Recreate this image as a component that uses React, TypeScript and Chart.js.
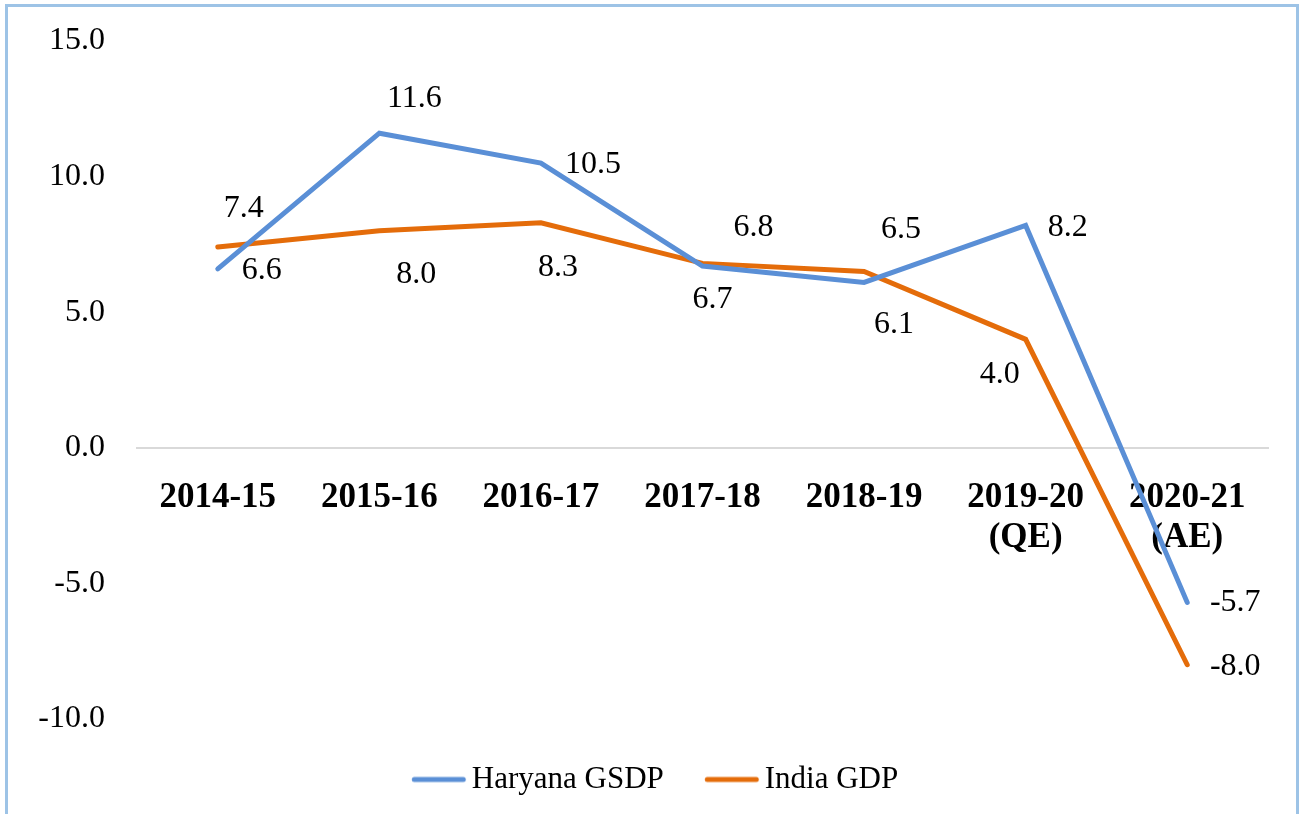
import React, { useEffect, useRef } from 'react';
import { Chart, registerables } from 'chart.js';

Chart.register(...registerables);

// ---- data ----
const categories: (string | string[])[] = [
  '2014-15',
  '2015-16',
  '2016-17',
  '2017-18',
  '2018-19',
  ['2019-20', '(QE)'],
  ['2020-21', '(AE)'],
];
const haryanaGSDP = [6.6, 11.6, 10.5, 6.7, 6.1, 8.2, -5.7];
const indiaGDP = [7.4, 8.0, 8.3, 6.8, 6.5, 4.0, -8.0];
const seriesNames = ['Haryana GSDP', 'India GDP'];
const yTicks = { min: -10, max: 15, step: 5 };

// label placement offsets (px) relative to each point, per series
const labelOffsets: number[][][] = [
  [[44, 2], [35, -35], [52, 2], [10, 33], [30, 42], [42, 2], [48, 0]],
  [[26, -39], [37, 44], [17, 45], [51, -36], [37, -42], [-26, 35], [48, 2]],
];

const FONT = '"Liberation Serif", "Times New Roman", serif';
const BLUE = '#5A8FD6';
const ORANGE = '#E46C0A';

// legend glyph: a short round-capped line, drawn into a small canvas
function legendLine(color: string): HTMLCanvasElement {
  const c = document.createElement('canvas');
  c.width = 72;
  c.height = 10;
  const g = c.getContext('2d')!;
  g.strokeStyle = color;
  g.lineWidth = 5;
  g.lineCap = 'round';
  g.beginPath();
  g.moveTo(19.25, 5);
  g.lineTo(68.25, 5);
  g.stroke();
  return c;
}

const pointLabelPlugin = {
  id: 'pointLabels',
  afterDatasetsDraw(chart: any) {
    const ctx = chart.ctx;
    ctx.save();
    ctx.font = `32px ${FONT}`;
    ctx.fillStyle = '#000000';
    ctx.textAlign = 'center';
    ctx.textBaseline = 'middle';
    chart.data.datasets.forEach((ds: any, i: number) => {
      const meta = chart.getDatasetMeta(i);
      meta.data.forEach((pt: any, j: number) => {
        const off = labelOffsets[i][j];
        ctx.fillText(Number(ds.data[j]).toFixed(1), pt.x + off[0], pt.y + off[1]);
      });
    });
    ctx.restore();
  },
};

export default function App() {
  const canvasRef = useRef<HTMLCanvasElement | null>(null);

  useEffect(() => {
    if (!canvasRef.current) return;
    const chart = new Chart(canvasRef.current, {
      type: 'line',
      data: {
        labels: categories as any,
        datasets: [
          {
            label: seriesNames[0],
            data: haryanaGSDP,
            borderColor: BLUE,
            backgroundColor: BLUE,
            borderWidth: 5,
            pointRadius: 0,
            pointStyle: legendLine(BLUE) as any,
            tension: 0,
            borderCapStyle: 'round',
          },
          {
            label: seriesNames[1],
            data: indiaGDP,
            borderColor: ORANGE,
            backgroundColor: ORANGE,
            borderWidth: 5,
            pointRadius: 0,
            pointStyle: legendLine(ORANGE) as any,
            tension: 0,
            borderCapStyle: 'round',
          },
        ],
      },
      options: {
        responsive: false,
        animation: false,
        devicePixelRatio: 1,
        layout: { padding: { top: 41, right: 31, bottom: 9, left: 36 } },
        plugins: {
          tooltip: { enabled: false },
          legend: {
            position: 'bottom',
            title: { display: true, text: '', font: { size: 10, lineHeight: 1 }, padding: 0 },
            labels: {
              font: { family: FONT, size: 31 },
              color: '#000000',
              usePointStyle: true,
              pointStyleWidth: 50.5,
              boxHeight: 10,
              padding: 35,
            },
          },
        },
        scales: {
          x: {
            type: 'category',
            offset: true,
            position: { y: 0 } as any,
            grid: { display: false, drawTicks: false },
            border: { display: true, color: '#D9D9D9', width: 2 },
            ticks: {
              autoSkip: false,
              maxRotation: 0,
              padding: 31,
              color: '#000000',
              font: { family: FONT, size: 35, weight: 'bold', lineHeight: 1.12 },
            },
          },
          y: {
            min: yTicks.min,
            max: yTicks.max,
            grid: { display: false, drawTicks: false },
            border: { display: false },
            afterFit: (scale: any) => {
              scale.width = 101;
              scale.paddingTop = 0;
              scale.paddingBottom = 0;
            },
            ticks: {
              stepSize: yTicks.step,
              padding: 32,
              color: '#000000',
              font: { family: FONT, size: 32 },
              callback: (v: any) => Number(v).toFixed(1),
            },
          },
        },
      },
      plugins: [pointLabelPlugin],
    });
    return () => chart.destroy();
  }, []);

  return (
    <div
      style={{
        position: 'absolute',
        left: 0,
        top: 0,
        width: 1299,
        height: 814,
        overflow: 'hidden',
        background: '#ffffff',
      }}
    >
      <canvas
        ref={canvasRef}
        width={1299}
        height={814}
        style={{ position: 'absolute', left: 0, top: 0, width: 1299, height: 814 }}
      />
      <div
        style={{
          position: 'absolute',
          left: 5,
          top: 4,
          width: 1294,
          height: 830,
          boxSizing: 'border-box',
          border: '3px solid #9DC3E6',
          pointerEvents: 'none',
        }}
      />
    </div>
  );
}
